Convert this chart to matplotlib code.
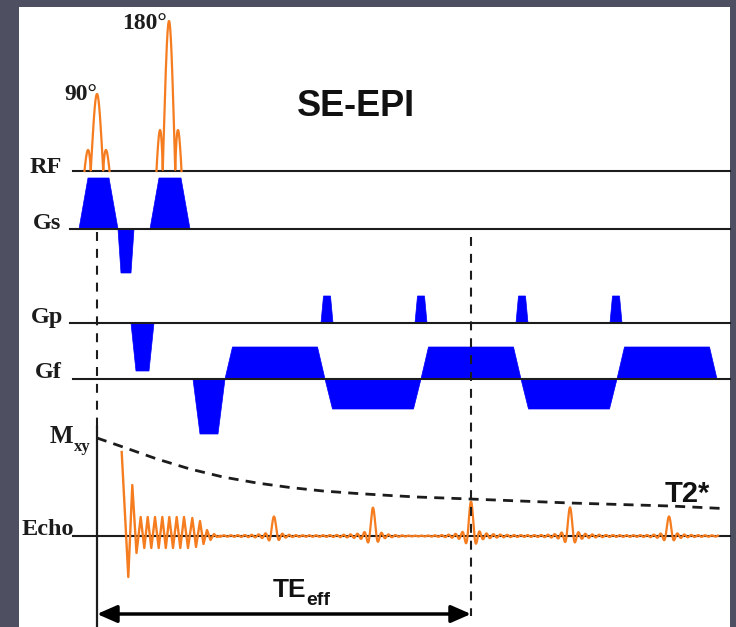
import numpy as np
import matplotlib
matplotlib.use('Agg')
import matplotlib.pyplot as plt
from matplotlib.patches import Rectangle

# Sequence timing (time axis: 0 = centre of the 90 deg pulse), amplitudes in a.u.
RF_CENTERS = [0, 72]
RF_PEAKS = [77, 150]
RF_DUR = [25, 25]
RF_LABELS = ['90°', '180°']

GS_START = [-18, 21, 53]
GS_RAMP = [9, 3, 9]
GS_FLAT = [21, 10, 22]
GS_AMP = [51, -44, 51]

GP_START = [34, 224, 318, 419, 513]
GP_RAMP = [5, 2.5, 2.5, 2.5, 2.5]
GP_FLAT = [13, 7, 7, 7, 7]
GP_AMP = [-48, 27, 27, 27, 27]

GF_START = [96, 128, 228, 324, 424, 520]
GF_RAMP = [7, 7.5, 7.5, 7.5, 7.5, 7.5]
GF_FLAT = [18, 85, 81, 85, 81, 85]
GF_AMP = [-55, 32, -30, 32, -30, 32]

# FID after the 90 deg pulse (extrema)
FID_T = [24.7, 31.3, 35.3, 39.5, 43.7, 47.3, 50.7, 54.3, 58, 61.7, 65.3, 68.8, 72.3,
         76, 79.7, 83.3, 87, 91, 95.3, 99, 103, 106.5, 110, 113.5, 117, 120, 123]
FID_A = [84, -41, 51, -17, 19, -12, 19, -12, 19, -12, 19, -12, 19,
         -12, 19, -12, 19, -12, 18, -11, 15, -8, 6, -4, 2, -1, 0]

# gradient echoes
ECHO_T = [177, 276, 374, 473, 572]
ECHO_A = [19, 28, 34, 28, 19]
ECHO_WIDTH = 3.5
ECHO_END = 621

# T2* envelope
T2_T = [0, 26, 60, 93, 126, 160, 193, 226, 260, 293, 320, 373, 473, 573, 626]
T2_A = [98, 89, 77, 67, 59, 53, 48.5, 45, 42.5, 40.5, 39, 37, 33, 30, 27.5]

TE_EFF = 374

# Layout
BASE = {'RF': 171, 'Gs': 229, 'Gp': 323, 'Gf': 379, 'Echo': 536}
LINE_START = {'RF': -24, 'Gs': -27, 'Gp': -27, 'Gf': -24, 'Echo': -24}
LINE_END = 633
ORANGE = '#f57c1f'
BLUE = '#0000ff'
INK = '#1c1c1c'
SERIF = 'Liberation Serif'
SANS = 'Liberation Sans'

fig = plt.figure(figsize=(7.36, 6.27), dpi=100, facecolor='#4e5062')
ax = fig.add_axes([0, 0, 1, 1])
ax.set_xlim(-97, 639)
ax.set_ylim(627, 0)
ax.axis('off')
ax.add_patch(Rectangle((-78, 7), 711, 625, facecolor='white', edgecolor='none', zorder=0))


def trapezoid(start, ramp, flat, amp):
    t = [start, start + ramp, start + ramp + flat, start + 2 * ramp + flat]
    return np.array(t), np.array([0, amp, amp, 0])


# baselines
for ch in BASE:
    ax.plot([LINE_START[ch], LINE_END], [BASE[ch]] * 2, color=INK, lw=1.5, zorder=3)

# RF pulses
for c, p, d in zip(RF_CENTERS, RF_PEAKS, RF_DUR):
    u = np.linspace(-2, 2, 300)
    shape = np.abs(np.sinc(u)) ** 0.85
    ax.plot(c + u * d / 4, BASE['RF'] - p * shape, color=ORANGE, lw=1.6, zorder=4)

# gradients
for ch, S, R, F, A in [('Gs', GS_START, GS_RAMP, GS_FLAT, GS_AMP),
                       ('Gp', GP_START, GP_RAMP, GP_FLAT, GP_AMP),
                       ('Gf', GF_START, GF_RAMP, GF_FLAT, GF_AMP)]:
    for s, r, f, a in zip(S, R, F, A):
        t, amp = trapezoid(s, r, f, a)
        ax.fill(t, BASE[ch] - amp, color=BLUE, lw=0.5, zorder=2)

# FID + echo train
ax.plot(FID_T, BASE['Echo'] - np.array(FID_A), color=ORANGE, lw=1.7, zorder=4)
te = np.linspace(FID_T[-1], ECHO_END, 2500)
sig = np.zeros_like(te)
for c, a in zip(ECHO_T, ECHO_A):
    sig += a * np.sinc((te - c) / ECHO_WIDTH)
ax.plot(te, BASE['Echo'] - sig, color=ORANGE, lw=1.6, zorder=4)

# T2* decay
ax.plot(T2_T, BASE['Echo'] - np.array(T2_A), color=INK, lw=2, ls=(0, (3.6, 2.6)), zorder=5)

# time markers
ax.plot([0, 0], [232, 427], color=INK, lw=1.5, ls=(0, (4.3, 3.8)), zorder=5)
ax.plot([0, 0], [427, 627], color=INK, lw=1.6, zorder=5)
ax.plot([TE_EFF, TE_EFF], [237, 616], color=INK, lw=1.5, ls=(0, (4.3, 3.8)), zorder=5)
ax.annotate('', xy=(0, 614), xytext=(TE_EFF, 614),
            arrowprops=dict(arrowstyle='<|-|>,head_length=0.8,head_width=0.35',
                            mutation_scale=15, lw=2.5, color='black',
                            shrinkA=0, shrinkB=0), zorder=6)

# labels
lab_kw = dict(family=SERIF, fontweight='bold', color=INK, fontsize=17.5, va='baseline')
ax.text(-35, 173, 'RF', ha='right', **lab_kw)
ax.text(-36, 229, 'Gs', ha='right', **lab_kw)
ax.text(-34, 323, 'Gp', ha='right', **lab_kw)
ax.text(-35, 378, 'Gf', ha='right', **lab_kw)
ax.text(-23, 535, 'Echo', ha='right', **lab_kw)
ax.text(-47, 443, 'M', ha='left', family=SERIF, fontweight='bold', color=INK,
        fontsize=18, va='baseline')
ax.text(-23, 451, 'xy', ha='left', family=SERIF, fontweight='bold', color=INK,
        fontsize=12, va='baseline')
ax.text(-16, 100, RF_LABELS[0], ha='center', **dict(lab_kw, fontsize=17))
ax.text(47.5, 29, RF_LABELS[1], ha='center', **dict(lab_kw, fontsize=17))

ax.text(258.5, 116, 'SE-EPI', ha='center', va='baseline', family=SANS,
        fontweight='bold', fontsize=26, color='#111111')
ax.text(568, 502, 'T2*', ha='left', va='baseline', family=SANS,
        fontweight='bold', fontsize=21, color='#111111')
ax.text(176, 597, 'TE', ha='left', va='baseline', family=SANS,
        fontweight='bold', fontsize=19, color='#111111')
ax.text(209, 605, 'eff', ha='left', va='baseline', family=SANS,
        fontweight='bold', fontsize=14, color='#111111')

fig.savefig('out.png', dpi=100, facecolor=fig.get_facecolor())
